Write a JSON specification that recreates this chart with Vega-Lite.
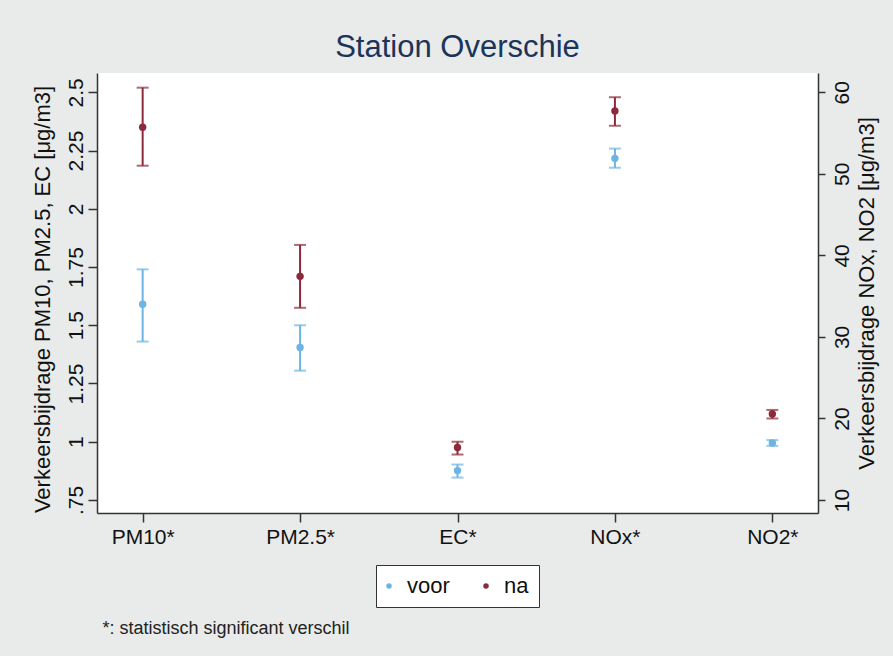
{
  "$schema": "https://vega.github.io/schema/vega-lite/v6.json",
  "autosize": {"type": "none"},
  "padding": {"left": 97, "top": 73, "right": 75, "bottom": 143},
  "width": 721,
  "height": 440,
  "title": {"text": "Station Overschie", "fontSize": 31, "color": "#1b355a", "fontWeight": "normal", "anchor": "middle", "baseline": "alphabetic", "offset": -15, "frame": "group", "font": "Liberation Sans"},
  "data": {"values": [
    {"pollutant": "PM10*", "period": "voor", "value": 1.59, "lo": 1.43, "hi": 1.74, "group": "left"},
    {"pollutant": "PM10*", "period": "na", "value": 2.35, "lo": 2.185, "hi": 2.52, "group": "left"},
    {"pollutant": "PM2.5*", "period": "voor", "value": 1.405, "lo": 1.305, "hi": 1.50, "group": "left"},
    {"pollutant": "PM2.5*", "period": "na", "value": 1.71, "lo": 1.575, "hi": 1.845, "group": "left"},
    {"pollutant": "EC*", "period": "voor", "value": 0.876, "lo": 0.846, "hi": 0.902, "group": "left"},
    {"pollutant": "EC*", "period": "na", "value": 0.975, "lo": 0.945, "hi": 1.0, "group": "left"},
    {"pollutant": "NOx*", "period": "voor", "value": 51.9, "lo": 50.75, "hi": 53.1, "group": "right"},
    {"pollutant": "NOx*", "period": "na", "value": 57.7, "lo": 55.9, "hi": 59.4, "group": "right"},
    {"pollutant": "NO2*", "period": "voor", "value": 17.0, "lo": 16.65, "hi": 17.35, "group": "right"},
    {"pollutant": "NO2*", "period": "na", "value": 20.55, "lo": 20.0, "hi": 21.05, "group": "right"}
  ]},
  "encoding": {
    "x": {"field": "pollutant", "type": "nominal", "sort": null,
      "scale": {"type": "point", "domain": ["PM10*", "PM2.5*", "EC*", "NOx*", "NO2*"], "padding": 0.29},
      "axis": {"orient": "bottom", "labelAngle": 0, "labelFontSize": 21, "labelPadding": 4, "tickSize": 9,
        "title": "*: statistisch significant verschil", "titleFontSize": 18, "titleFontWeight": "normal", "titleColor": "#222",
        "titleX": 5, "titleY": 120, "titleAlign": "left", "titleAnchor": "start", "titleBaseline": "alphabetic", "titleAngle": 0}},
    "color": {"field": "period", "type": "nominal", "scale": {"domain": ["voor", "na"], "range": ["#6cb4e2", "#8c2a3c"]},
      "legend": {"orient": "none", "legendX": 279, "legendY": 492, "direction": "horizontal", "title": null,
        "fillColor": "white", "strokeColor": "#333", "padding": 10, "symbolType": "circle", "symbolSize": 30,
        "symbolStrokeWidth": 0, "symbolOffset": -8, "labelFontSize": 22, "labelOffset": 7, "columnPadding": 33, "labelColor": "#111",
        "encode": {"symbols": {"update": {"fill": {"scale": "color", "field": "value"}, "stroke": {"value": "transparent"}, "opacity": {"value": 1}}}}}}
  },
  "layer": [
    {
      "transform": [{"filter": "datum.group == 'left'"}],
      "layer": [
        {"mark": {"type": "rule", "strokeWidth": 2},
         "encoding": {"y": {"field": "lo", "type": "quantitative",
            "scale": {"domain": [0.694, 2.583], "nice": false, "zero": false},
            "axis": {"orient": "left", "values": [0.75, 1, 1.25, 1.5, 1.75, 2, 2.25, 2.5],
              "labelExpr": "datum.value == 0.75 ? '.75' : format(datum.value, '~g')",
              "labelAngle": 270, "labelAlign": "center", "labelBaseline": "alphabetic", "labelPadding": 6, "labelFontSize": 21, "tickSize": 9,
              "title": "Verkeersbijdrage PM10, PM2.5, EC [μg/m3]", "titleFontSize": 22, "titleFontWeight": "normal",
              "titleAngle": 270, "titleX": -48, "titleY": 226, "titleAlign": "center", "titleBaseline": "alphabetic"}},
           "y2": {"field": "hi"}}},
        {"mark": {"type": "tick", "size": 12, "thickness": 2}, "encoding": {"y": {"field": "lo", "type": "quantitative"}}},
        {"mark": {"type": "tick", "size": 12, "thickness": 2}, "encoding": {"y": {"field": "hi", "type": "quantitative"}}},
        {"mark": {"type": "point", "filled": true, "size": 55, "opacity": 1},
         "encoding": {"y": {"field": "value", "type": "quantitative"}}}
      ]
    },
    {
      "transform": [{"filter": "datum.group == 'right'"}],
      "layer": [
        {"mark": {"type": "rule", "strokeWidth": 2},
         "encoding": {"y": {"field": "lo", "type": "quantitative",
            "scale": {"domain": [8.41, 62.37], "nice": false, "zero": false},
            "axis": {"orient": "right", "values": [10, 20, 30, 40, 50, 60],
              "labelAngle": 270, "labelAlign": "center", "labelBaseline": "top", "labelPadding": 6, "labelFontSize": 21, "tickSize": 7,
              "title": "Verkeersbijdrage NOx, NO2 [μg/m3]", "titleFontSize": 22, "titleFontWeight": "normal",
              "titleAngle": 270, "titleX": 55, "titleY": 220, "titleAlign": "center", "titleBaseline": "alphabetic"}},
           "y2": {"field": "hi"}}},
        {"mark": {"type": "tick", "size": 12, "thickness": 2}, "encoding": {"y": {"field": "lo", "type": "quantitative"}}},
        {"mark": {"type": "tick", "size": 12, "thickness": 2}, "encoding": {"y": {"field": "hi", "type": "quantitative"}}},
        {"mark": {"type": "point", "filled": true, "size": 55, "opacity": 1},
         "encoding": {"y": {"field": "value", "type": "quantitative"}}}
      ]
    }
  ],
  "resolve": {"scale": {"y": "independent"}},
  "config": {
    "background": "#e8ebea",
    "font": "Liberation Sans",
    "view": {"fill": "white", "stroke": null},
    "axis": {"grid": false, "domainColor": "#333", "tickColor": "#333", "domainWidth": 1.5, "tickWidth": 1.5, "labelColor": "#111", "titleColor": "#111", "labelFont": "Liberation Sans", "titleFont": "Liberation Sans"},
    "legend": {"labelFont": "Liberation Sans"}
  }
}
